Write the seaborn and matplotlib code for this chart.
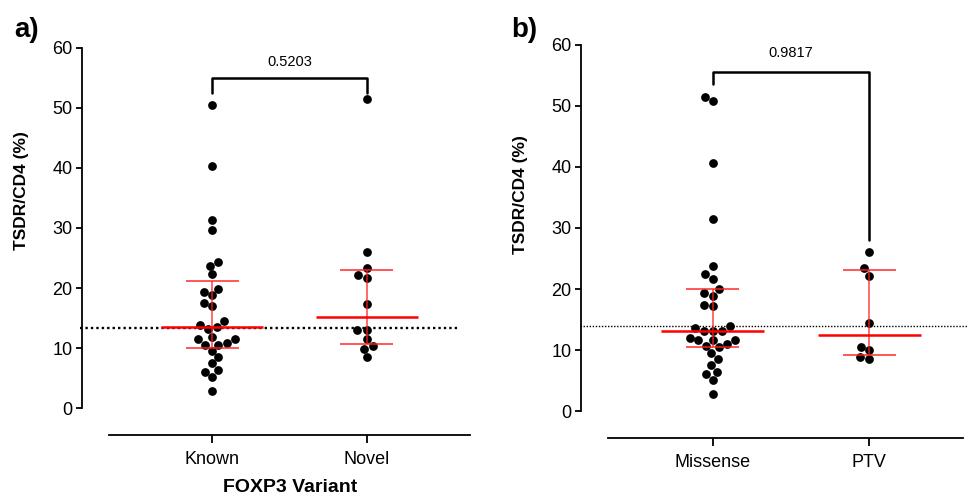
import numpy as np
import pandas as pd
import matplotlib
matplotlib.use("Agg")
import matplotlib.pyplot as plt
import seaborn as sns

# TSDR/CD4 (%) per patient, grouped by FOXP3 variant class
known = [50.5, 40.35, 31.4, 29.7, 24.4, 23.7, 22.3, 19.9, 19.3, 18.8, 17.5, 17.1,
         14.5, 13.9, 13.5, 13.2, 11.9, 11.5, 11.5, 10.9, 10.6, 10.5, 9.5, 8.5,
         7.5, 6.4, 6.0, 5.2, 2.8]
novel = [51.4, 26.0, 23.3, 22.1, 21.6, 17.3, 13.1, 13.1, 11.5, 10.4, 9.9, 8.5]

missense = [51.5, 50.8, 40.6, 31.5, 23.85, 22.5, 21.7, 20.0, 19.4, 18.9, 17.4,
            17.2, 13.9, 13.6, 13.2, 13.1, 13.1, 12.0, 11.7, 11.6, 11.6, 11.0,
            10.7, 10.5, 9.6, 8.55, 7.6, 6.5, 6.1, 5.2, 2.8]
ptv = [26.15, 23.4, 22.2, 14.5, 10.5, 10.0, 8.9, 8.55]

labels_a = ["Known", "Novel"]
labels_b = ["Missense", "PTV"]
p_a = "0.5203"
p_b = "0.9817"
ref_a = 13.35
ref_b = 13.9
y_ticks = [0, 10, 20, 30, 40, 50, 60]

sns.set_theme(style="ticks")
plt.rcParams["font.family"] = ["Liberation Sans", "DejaVu Sans"]
plt.rcParams["text.color"] = "black"
plt.rcParams["axes.labelcolor"] = "black"

fig = plt.figure(figsize=(9.73, 4.97), dpi=100)
ax_a = fig.add_axes([0.1120, 0.1785, 0.3710, 0.7255])
ax_b = fig.add_axes([0.6249, 0.1722, 0.3648, 0.7382])


def draw_panel(ax, labels, groups, ref, ref_lw, ref_dash, xr, dot_span):
    df = pd.DataFrame({
        "group": np.repeat(labels, [len(g) for g in groups]),
        "value": np.concatenate([np.asarray(g, float) for g in groups]),
    })
    sns.swarmplot(data=df, x="group", y="value", order=labels, color="black",
                  size=6.3, linewidth=0, ax=ax, zorder=2)
    ax.set_xlim(-0.67, xr)
    ax.set_ylim(0, 60)
    ax.set_yticks(y_ticks)
    ax.set_xlabel("")
    ax.set_ylabel("")

    # median with interquartile range
    for i, vals in enumerate(groups):
        med = np.median(vals)
        q1, q3 = np.percentile(vals, [25, 75], method="weibull")
        ax.vlines(i, q1, q3, color="#ff2020", lw=1.1, alpha=0.85, zorder=4)
        ax.hlines([q1, q3], i - 0.17, i + 0.17, color="#ff2020", lw=1.4,
                  alpha=0.75, zorder=4)
        ax.hlines(med, i - 0.33, i + 0.33, color="#ff0000", lw=1.8, zorder=5)

    # reference level
    ax.plot(dot_span, [ref, ref], color="black", lw=ref_lw,
            dashes=ref_dash, clip_on=False, zorder=3)

    for side in ("top", "right"):
        ax.spines[side].set_visible(False)
    for side in ("left", "bottom"):
        ax.spines[side].set_position(("outward", 19.4))
        ax.spines[side].set_linewidth(1.3)
        ax.spines[side].set_color("black")
    ax.tick_params(axis="y", length=4, width=1.3, labelsize=13, pad=3,
                   colors="black")
    ax.tick_params(axis="x", length=6, width=1.3, labelsize=13, pad=5,
                   colors="black")


draw_panel(ax_a, labels_a, [known, novel], ref_a, 1.7, (1, 1.3), 1.67,
           [-0.86, 1.59])
draw_panel(ax_b, labels_b, [missense, ptv], ref_b, 1.0, (1, 1.2), 1.6,
           [-0.85, 1.63])

# significance brackets
ax_a.plot([0, 0, 1, 1], [52.5, 55.0, 55.0, 52.5], color="black", lw=1.8,
          clip_on=False, zorder=6)
ax_a.text(0.5, 57.7, p_a, ha="center", va="center", fontsize=10.5)
ax_b.plot([0, 0, 1, 1], [53.5, 55.5, 55.5, 28.0], color="black", lw=1.8,
          clip_on=False, zorder=6)
ax_b.text(0.5, 58.6, p_b, ha="center", va="center", fontsize=10.5)

# titles and axis labels
fig.text(22 / 973, 1 - 191 / 497, "TSDR/CD4 (%)", rotation=90, ha="center",
         va="center", fontsize=12.5, fontweight="bold")
fig.text(520 / 973, 1 - 195 / 497, "TSDR/CD4 (%)", rotation=90, ha="center",
         va="center", fontsize=12.5, fontweight="bold")
fig.text(290 / 973, 1 - 487 / 497, "FOXP3 Variant", ha="center", va="center",
         fontsize=14, fontweight="bold")
fig.text(14 / 973, 1 - 37 / 497, "a)", ha="left", va="baseline",
         fontsize=20, fontweight="bold")
fig.text(511 / 973, 1 - 37 / 497, "b)", ha="left", va="baseline",
         fontsize=20, fontweight="bold")

fig.savefig("out.png", dpi=100, facecolor="white")
